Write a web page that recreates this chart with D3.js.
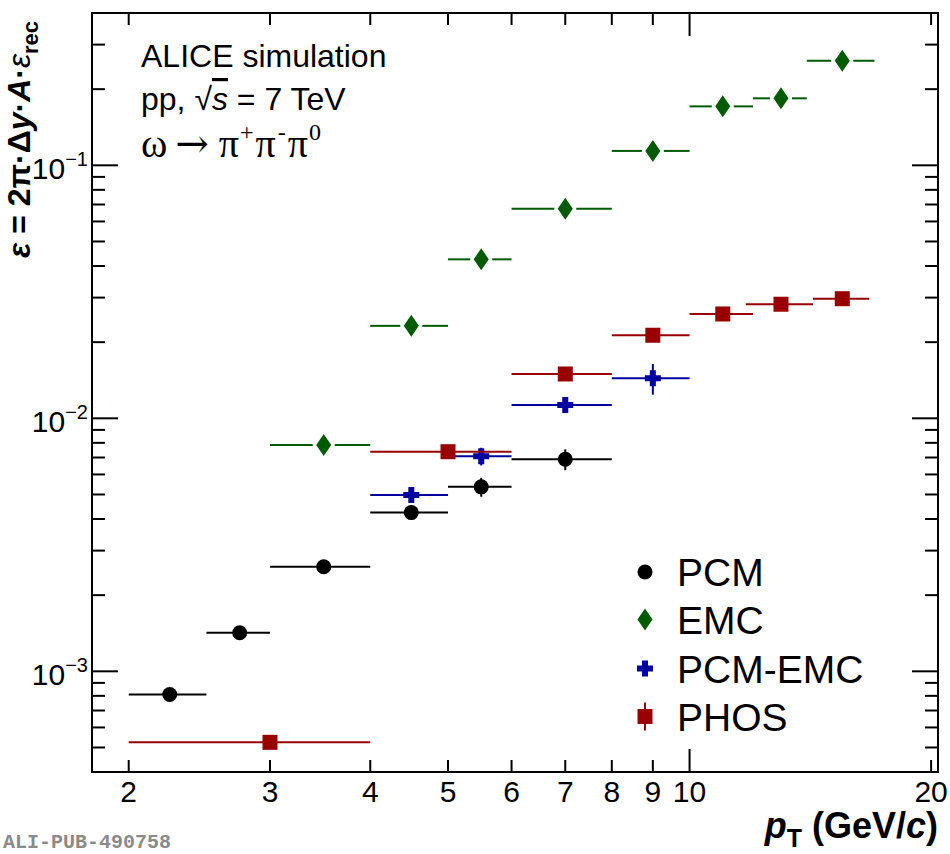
<!DOCTYPE html>
<html>
<head>
<meta charset="utf-8">
<script src="https://cdn.jsdelivr.net/npm/d3@7"></script>
<style>
  html, body { margin: 0; padding: 0; background: #fff; }
  svg { display: block; font-family: "Liberation Sans", Arial, Helvetica, sans-serif; }
</style>
</head>
<body>
<svg id="chart" width="950" height="854"></svg>
<script>
// ---------------- data ----------------
const xTickValues = [2, 3, 4, 5, 6, 7, 8, 9, 10, 20];
const xTickLabels = ["2", "3", "4", "5", "6", "7", "8", "9", "10", "20"];
const yMajorTicks = [1e-3, 1e-2, 1e-1];
const yMajorExp = ["−3", "−2", "−1"];

const pcmX   = [2.25, 2.75, 3.5, 4.5, 5.5, 7];
const pcmLo  = [2, 2.5, 3, 4, 5, 6];
const pcmHi  = [2.5, 3, 4, 5, 6, 8];
const pcmY   = [8.1e-4, 1.42e-3, 2.59e-3, 4.24e-3, 5.36e-3, 6.89e-3];
const pcmErr = [2e-5, 3e-5, 5e-5, 8e-5, 4.6e-4, 6.5e-4];

const emcX   = [3.5, 4.5, 5.5, 7, 9, 11, 13, 15.5];
const emcLo  = [3, 4, 5, 6, 8, 10, 12, 14];
const emcHi  = [4, 5, 6, 8, 10, 12, 14, 17];
const emcY   = [7.85e-3, 0.0232, 0.0425, 0.0674, 0.114, 0.171, 0.184, 0.259];
const emcErr = [1e-4, 3e-4, 5e-4, 8e-4, 1.5e-3, 2.5e-3, 3e-3, 4e-3];

const pcmEmcX   = [4.5, 5.5, 7, 9];
const pcmEmcLo  = [4, 5, 6, 8];
const pcmEmcHi  = [5, 6, 8, 10];
const pcmEmcY   = [4.98e-3, 7.08e-3, 0.0113, 0.0144];
const pcmEmcErr = [3e-4, 5.7e-4, 8e-4, 2.0e-3];

const phosX   = [3, 5, 7, 9, 11, 13, 15.5];
const phosLo  = [2, 4, 6, 8, 10, 11.75, 14.25];
const phosHi  = [4, 6, 8, 10, 12, 14.25, 16.75];
const phosY   = [5.24e-4, 7.38e-3, 0.01497, 0.0213, 0.02585, 0.02825, 0.0297];
const phosErr = [1e-5, 1.5e-4, 3e-4, 4e-4, 5e-4, 5e-4, 5e-4];

const seriesNames = ["PCM", "EMC", "PCM-EMC", "PHOS"];

// ---------------- layout ----------------
const svg = d3.select("#chart");
const L = 92, R = 938, T = 13, B = 772;
const x = d3.scaleLog().domain([1.8, 20.4]).range([L, R]);
const y = d3.scaleLog().domain([4.0e-4, 0.4]).range([B, T]);

const colors = { PCM: "#000000", EMC: "#005a00", "PCM-EMC": "#0000a0", PHOS: "#990000" };
const SERIF = "'Liberation Serif', 'DejaVu Serif', 'Times New Roman', serif";
const MONO = "'Liberation Mono', 'Courier New', monospace";

function makeSeries(name, xs, lo, hi, ys, err, shape, gap) {
  return xs.map((v, i) => ({ name, x: v, lo: lo[i], hi: hi[i], y: ys[i], e: err[i], shape, gap }));
}
const series = [
  makeSeries("PCM", pcmX, pcmLo, pcmHi, pcmY, pcmErr, "circle", 0),
  makeSeries("EMC", emcX, emcLo, emcHi, emcY, emcErr, "diamond", 11),
  makeSeries("PCM-EMC", pcmEmcX, pcmEmcLo, pcmEmcHi, pcmEmcY, pcmEmcErr, "cross", 0),
  makeSeries("PHOS", phosX, phosLo, phosHi, phosY, phosErr, "square", 0)
];

// ---------------- axes ----------------
const axisG = svg.append("g");
axisG.append("rect").attr("x", L).attr("y", T).attr("width", R - L).attr("height", B - T)
  .attr("fill", "none").attr("stroke", "#000").attr("stroke-width", 2);

const xMinor = xTickValues.filter(v => v !== 10);
const xMajor = [10];
function xTicks(vals, len) {
  vals.forEach(v => {
    axisG.append("line").attr("x1", x(v)).attr("x2", x(v)).attr("y1", B).attr("y2", B - len)
      .attr("stroke", "#000").attr("stroke-width", 2);
    axisG.append("line").attr("x1", x(v)).attr("x2", x(v)).attr("y1", T).attr("y2", T + len)
      .attr("stroke", "#000").attr("stroke-width", 2);
  });
}
xTicks(xMinor, 12);
xTicks(xMajor, 23);

xTickValues.forEach((v, i) => {
  axisG.append("text").attr("x", x(v)).attr("y", 802).attr("text-anchor", "middle")
    .attr("font-size", 30).attr("fill", "#000").text(xTickLabels[i]);
});

const yMinor = [];
[1e-4, 1e-3, 1e-2, 1e-1].forEach(dec => {
  for (let k = 2; k <= 9; k++) {
    const v = k * dec;
    if (v >= 4.0e-4 && v < 0.4) yMinor.push(v);
  }
});
function yTicks(vals, len) {
  vals.forEach(v => {
    axisG.append("line").attr("x1", L).attr("x2", L + len).attr("y1", y(v)).attr("y2", y(v))
      .attr("stroke", "#000").attr("stroke-width", 2);
    axisG.append("line").attr("x1", R).attr("x2", R - len).attr("y1", y(v)).attr("y2", y(v))
      .attr("stroke", "#000").attr("stroke-width", 2);
  });
}
yTicks(yMinor, 13);
yTicks(yMajorTicks, 26);

yMajorTicks.forEach((v, i) => {
  const t = axisG.append("text").attr("x", 88).attr("y", y(v) + 14).attr("text-anchor", "end")
    .attr("font-size", 30).attr("fill", "#000");
  t.append("tspan").text("10");
  t.append("tspan").attr("font-size", 20).attr("dy", -13).text(yMajorExp[i]);
});

// axis titles
const yt = svg.append("text").attr("transform", "translate(30,258) rotate(-90)")
  .attr("font-size", 32).attr("font-weight", "bold").attr("fill", "#000");
yt.append("tspan").attr("font-style", "italic").text("ε");
yt.append("tspan").text(" = 2π·Δ");
yt.append("tspan").attr("font-style", "italic").text("y");
yt.append("tspan").text("·");
yt.append("tspan").attr("font-style", "italic").text("A");
yt.append("tspan").text("·");
yt.append("tspan").attr("font-style", "italic").attr("font-weight", "normal").text("ε");
yt.append("tspan").attr("font-size", 22).attr("dy", 8).text("rec");

const xt = svg.append("text").attr("x", 938).attr("y", 838).attr("text-anchor", "end")
  .attr("font-size", 36).attr("font-weight", "bold").attr("fill", "#000");
xt.append("tspan").attr("font-style", "italic").text("p");
xt.append("tspan").attr("font-size", 25).attr("dy", 9).text("T");
xt.append("tspan").attr("dy", -9).text(" (GeV/");
xt.append("tspan").attr("font-style", "italic").text("c");
xt.append("tspan").text(")");

// ---------------- data marks ----------------
function drawMarker(g, shape, cx, cy, color) {
  if (shape === "circle") {
    g.append("circle").attr("cx", cx).attr("cy", cy).attr("r", 7.5).attr("fill", color);
  } else if (shape === "square") {
    g.append("rect").attr("x", cx - 7.5).attr("y", cy - 7.5).attr("width", 15).attr("height", 15).attr("fill", color);
  } else if (shape === "diamond") {
    g.append("path").attr("d", `M${cx},${cy - 11}L${cx + 7.5},${cy}L${cx},${cy + 11}L${cx - 7.5},${cy}Z`).attr("fill", color);
  } else if (shape === "cross") {
    const a = 8, w = 3;
    g.append("path").attr("d",
      `M${cx - w},${cy - a}H${cx + w}V${cy - w}H${cx + a}V${cy + w}H${cx + w}V${cy + a}H${cx - w}V${cy + w}H${cx - a}V${cy - w}H${cx - w}Z`)
      .attr("fill", color);
  }
}

const dataG = svg.append("g");
series.forEach(s => {
  const g = dataG.append("g");
  s.forEach(d => {
    const c = colors[d.name];
    const cx = x(d.x), cy = y(d.y);
    if (d.gap > 0) {
      g.append("line").attr("x1", x(d.lo)).attr("x2", cx - d.gap).attr("y1", cy).attr("y2", cy)
        .attr("stroke", c).attr("stroke-width", 2);
      g.append("line").attr("x1", cx + d.gap).attr("x2", x(d.hi)).attr("y1", cy).attr("y2", cy)
        .attr("stroke", c).attr("stroke-width", 2);
    } else {
      g.append("line").attr("x1", x(d.lo)).attr("x2", x(d.hi)).attr("y1", cy).attr("y2", cy)
        .attr("stroke", c).attr("stroke-width", 2);
    }
    g.append("line").attr("x1", cx).attr("x2", cx).attr("y1", y(d.y - d.e)).attr("y2", y(d.y + d.e))
      .attr("stroke", c).attr("stroke-width", 2);
    drawMarker(g, d.shape, cx, cy, c);
  });
});

// ---------------- text labels ----------------
const info = svg.append("g").attr("fill", "#000");
info.append("text").attr("x", 141).attr("y", 67).attr("font-size", 32).text("ALICE simulation");
const l2 = info.append("text").attr("x", 141).attr("y", 110).attr("font-size", 32);
l2.append("tspan").text("pp, √");
l2.append("tspan").attr("font-style", "italic").style("text-decoration", "overline").text("s");
l2.append("tspan").text(" = 7 TeV");
const l3 = info.append("text").attr("x", 141).attr("y", 157).attr("font-size", 40)
  .style("font-family", SERIF);
l3.append("tspan").text("ω");
l3.append("tspan").attr("dx", 8).style("font-family", "'DejaVu Serif', serif").attr("font-size", 40).text("→");
l3.append("tspan").attr("dx", 10).text("π");
l3.append("tspan").attr("dx", 1).attr("font-size", 24).attr("dy", -17).text("+");
l3.append("tspan").attr("dx", 2).attr("dy", 17).text("π");
l3.append("tspan").attr("dx", 2).attr("font-size", 24).attr("dy", -17).text("-");
l3.append("tspan").attr("dx", 2).attr("dy", 17).text("π");
l3.append("tspan").attr("dx", 1).attr("font-size", 24).attr("dy", -17).text("0");

// legend
const legY = [572, 619.5, 668.5, 716.5];
const legShapes = ["circle", "diamond", "cross", "square"];
const leg = svg.append("g");
seriesNames.forEach((n, i) => {
  const c = colors[n];
  if (n === "PHOS") {
    leg.append("line").attr("x1", 645).attr("x2", 645).attr("y1", legY[i] - 14).attr("y2", legY[i] + 14)
      .attr("stroke", c).attr("stroke-width", 2);
  }
  drawMarker(leg, legShapes[i], 645, legY[i], c);
  leg.append("text").attr("x", 677).attr("y", legY[i] + 14).attr("font-size", 39).attr("fill", "#000").text(n);
});

// watermark
svg.append("text").attr("x", 3).attr("y", 848).style("font-family", MONO)
  .attr("font-weight", "bold").attr("font-size", 20).attr("fill", "#8a8a8a").text("ALI-PUB-490758");
</script>
</body>
</html>
